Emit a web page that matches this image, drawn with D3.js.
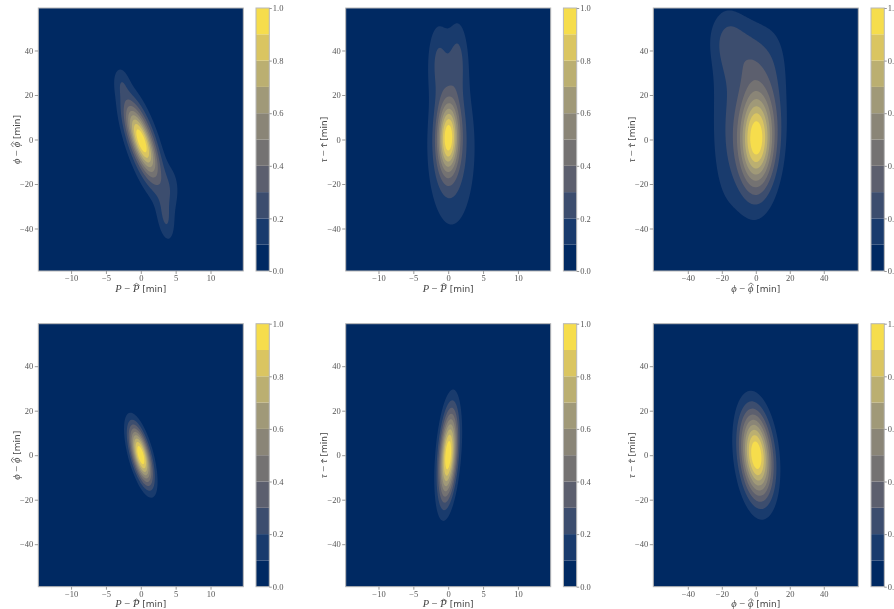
<!DOCTYPE html>
<html><head><meta charset="utf-8">
<script src="https://cdn.jsdelivr.net/npm/d3@7"></script>
<style>
body{margin:0;background:#fff;}
svg{will-change:transform;}
svg text{font-family:"Liberation Serif","DejaVu Serif",serif;}
</style>
</head><body>
<svg id="chart" width="894" height="609"></svg>
<script>
// ---------- data ----------
const levels = [0, 0.1, 0.2, 0.3, 0.4, 0.5, 0.6, 0.7, 0.8, 0.9, 1.0];
const cbTicks = [0, 0.2, 0.4, 0.6, 0.8, 1.0];
const pTicks = [-10, -5, 0, 5, 10];
const phiTicks = [-40, -20, 0, 20, 40];
const yTicks = [-40, -20, 0, 20, 40];
const pDomain = [-14.7, 14.7];
const phiDomain = [-60.3, 60.3];
const yDomain = [-59.1, 59.1];

// density components: [peak, meanX, meanY, sdX, sdY, rho]
const densTopPPhi = [
  [0.55, 0.0, 0.0, 1.4, 9.5, -0.72],
  [0.50, 0.3, -2.0, 2.0, 15, -0.70],
  [0.17, 3.6, -37, 0.9, 7, -0.3],
  [0.12, 4.3, -22, 1.1, 8, 0.0],
  [0.11, -2.8, 26, 0.8, 5, -0.2]
];
const densTopPTau = [
  [0.78, 0.0, 1.0, 1.05, 11, 0.05],
  [0.26, 0.5, -4.0, 2.4, 25, 0.0],
  [0.18, -1.4, 36, 1.1, 12, 0.0],
  [0.18, 1.4, 37, 1.0, 12, 0.0]
];
const densTopPhiTau = [
  [0.92, 0.3, 0.7, 7.2, 15.5, 0.0],
  [0.20, -3.0, 37, 11, 12, 0.0],
  [0.12, -17, 46, 8, 9, 0.0],
  [0.13, -18, 10, 7, 28, 0.0],
  [0.08, -4.0, -10, 12, 25, 0.0],
  [0.10, 12, 18, 6, 20, 0.0]
];
const densBotPPhi = [[1.00, 0.0, 0.0, 1.12, 8.9, -0.62]];
const densBotPTau = [[1.00, 0.0, 0.0, 0.93, 13.75, 0.35]];
const densBotPhiTau = [[1.00, 0.3, 0.0, 6.6, 13.5, -0.23]];

const panels = [
  {comps: densTopPPhi,   xv: "P",   yv: "phi", row: 0, col: 0},
  {comps: densTopPTau,   xv: "P",   yv: "tau", row: 0, col: 1},
  {comps: densTopPhiTau, xv: "phi", yv: "tau", row: 0, col: 2},
  {comps: densBotPPhi,   xv: "P",   yv: "phi", row: 1, col: 0},
  {comps: densBotPTau,   xv: "P",   yv: "tau", row: 1, col: 1},
  {comps: densBotPhiTau, xv: "phi", yv: "tau", row: 1, col: 2}
];

// ---------- layout ----------
const svg = d3.select("#chart");
const plotLeft = [38.3, 345.7, 653.3];
const plotTop = [8, 323.7];
const plotW = 205, plotH = 263;
const cbGap = 12.7, cbW = 13.3;
const textCol = "#555";
const frameCol = "#b8b8b8";
const bandColor = i => d3.interpolateCividis((i + 0.5) / 10);

function density(comps, x, y) {
  let s = 0;
  for (const [a, mx, my, sx, sy, r] of comps) {
    const zx = (x - mx) / sx, zy = (y - my) / sy;
    s += a * Math.exp(-(zx * zx - 2 * r * zx * zy + zy * zy) / (2 * (1 - r * r)));
  }
  return s;
}

const symInfo = {
  P:   {ch: "P", cap: 0.66},
  phi: {ch: "ϕ", cap: 0.70},
  tau: {ch: "τ", cap: 0.46}
};

// axis label with a wide hat over the second symbol
function axisLabel(parent, v, transform) {
  const fs = 10.5;
  const g = parent.append("g").attr("transform", transform);
  const t = g.append("text").attr("text-anchor", "middle").attr("font-size", fs)
    .attr("fill", "#444");
  const s = symInfo[v];
  t.append("tspan").attr("font-style", "italic").text(s.ch);
  t.append("tspan").text(" − ");
  t.append("tspan").attr("font-style", "italic").text(s.ch);
  t.append("tspan").attr("font-family", '"DejaVu Sans","Liberation Sans",sans-serif')
    .attr("font-size", 9).text(" [min]");
  const e = t.node().getExtentOfChar(4);
  const top = -s.cap * fs - 1.2;
  const hx0 = e.x + 0.3, hx1 = e.x + e.width + 0.3;
  g.append("path")
    .attr("d", `M${hx0},${top + 2.2}L${(hx0 + hx1) / 2},${top}L${hx1},${top + 2.2}`)
    .attr("fill", "none").attr("stroke", "#444").attr("stroke-width", 0.7);
}

function styleAxis(a) {
  a.select(".domain").remove();
  a.selectAll("line").attr("stroke", "#999");
  a.selectAll("text").attr("font-size", 8.5).attr("fill", textCol)
    .style("font-family", '"Liberation Serif","DejaVu Serif",serif');
}

panels.forEach(p => {
  const x0 = plotLeft[p.col], y0 = plotTop[p.row];
  const xDom = p.xv === "P" ? pDomain : phiDomain;
  const x = d3.scaleLinear().domain(xDom).range([x0, x0 + plotW]);
  const y = d3.scaleLinear().domain(yDomain).range([y0 + plotH, y0]);
  const g = svg.append("g");

  // density grid
  const nx = 164, ny = 210;
  const dx = (xDom[1] - xDom[0]) / nx, dy = (yDomain[1] - yDomain[0]) / ny;
  const vals = new Float64Array(nx * ny);
  for (let j = 0; j < ny; j++) {
    const yy = yDomain[1] - (j + 0.5) * dy;
    for (let i = 0; i < nx; i++) {
      vals[i + j * nx] = density(p.comps, xDom[0] + (i + 0.5) * dx, yy);
    }
  }
  const mx = d3.max(vals);
  for (let k = 0; k < vals.length; k++) vals[k] /= mx;

  const proj = d3.geoTransform({
    point: function (gx, gy) {
      this.stream.point(x(xDom[0] + gx * dx), y(yDomain[1] - gy * dy));
    }
  });
  const path = d3.geoPath(proj);

  g.append("rect").attr("x", x0).attr("y", y0).attr("width", plotW).attr("height", plotH)
    .attr("fill", bandColor(0));
  const conts = d3.contours().size([nx, ny]).thresholds(levels.slice(1, 10))(vals);
  g.selectAll("path.c").data(conts).join("path").attr("class", "c")
    .attr("d", path).attr("fill", (d, i) => bandColor(i + 1));
  g.append("rect").attr("x", x0).attr("y", y0).attr("width", plotW).attr("height", plotH)
    .attr("fill", "none").attr("stroke", frameCol).attr("stroke-width", 1);

  // axes
  const xAxis = g.append("g").attr("transform", `translate(0,${y0 + plotH})`)
    .call(d3.axisBottom(x).tickValues(p.xv === "P" ? pTicks : phiTicks).tickSize(3).tickPadding(1));
  const yAxis = g.append("g").attr("transform", `translate(${x0},0)`)
    .call(d3.axisLeft(y).tickValues(yTicks).tickSize(3.5).tickPadding(1.5));
  styleAxis(xAxis);
  styleAxis(yAxis);

  // axis labels
  axisLabel(g, p.xv, `translate(${x0 + plotW / 2},${y0 + plotH + 20.5})`);
  axisLabel(g, p.yv, `translate(${x0 - 18.6},${y0 + plotH / 2}) rotate(-90)`);

  // colorbar
  const cx = x0 + plotW + cbGap;
  const cy = d3.scaleLinear().domain([0, 1]).range([y0 + plotH, y0]);
  const bands = d3.range(10);
  g.selectAll("rect.cb").data(bands).join("rect").attr("class", "cb")
    .attr("x", cx).attr("width", cbW)
    .attr("y", i => cy(levels[i + 1])).attr("height", i => cy(levels[i]) - cy(levels[i + 1]))
    .attr("fill", i => bandColor(i));
  g.append("rect").attr("x", cx).attr("y", y0).attr("width", cbW).attr("height", plotH)
    .attr("fill", "none").attr("stroke", frameCol).attr("stroke-width", 1);
  const cAxis = g.append("g").attr("transform", `translate(${cx + cbW},0)`)
    .call(d3.axisRight(cy).tickValues(cbTicks).tickSize(2.5).tickPadding(1).tickFormat(d3.format(".1f")));
  styleAxis(cAxis);
});
</script>
</body></html>
